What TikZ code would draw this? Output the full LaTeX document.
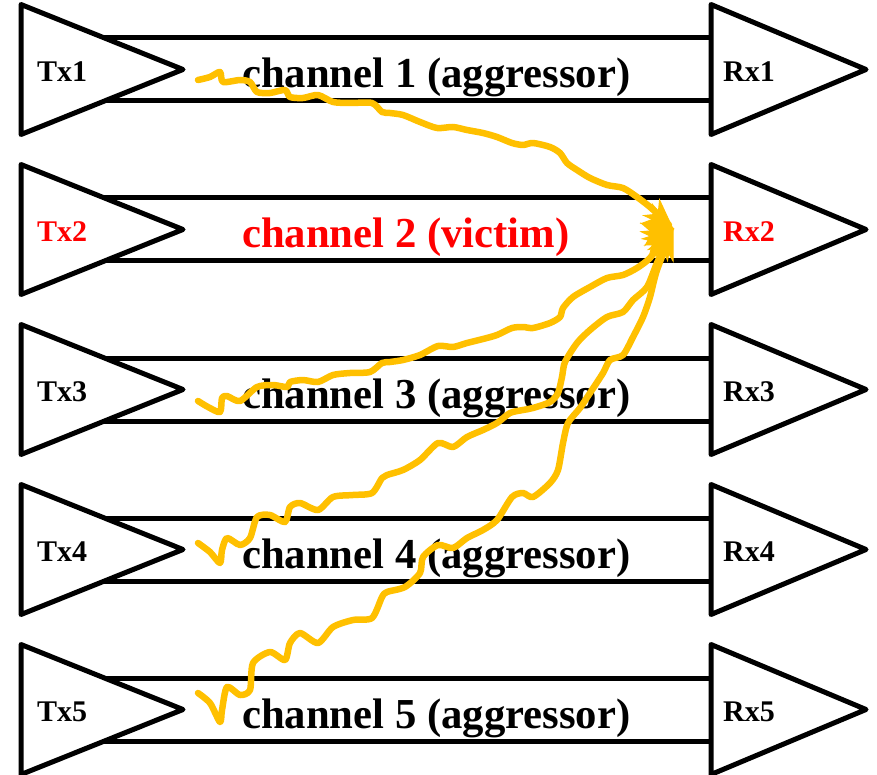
\documentclass[tikz,border=0pt]{standalone}
\usepackage{fontspec}
\setmainfont{Liberation Serif}
\definecolor{wave}{RGB}{255,192,0}
\definecolor{vic}{RGB}{255,0,0}
\begin{document}
\begin{tikzpicture}[x=1pt,y=-1pt,
  wire/.style={line width=5pt},
  amp/.style={line width=5pt,line join=round,fill=white},
  chlabel/.style={anchor=base west,inner sep=0pt,font=\fontsize{42.7}{50}\selectfont\bfseries},
  txlabel/.style={anchor=base west,inner sep=0pt,font=\fontsize{30}{36}\selectfont\bfseries},
  xtalk/.style={draw=wave,line width=6.5pt,line cap=round,line join=round,shorten >=10pt},
  xhead/.style={fill=wave,draw=wave,line width=1pt,line join=miter}]
\useasboundingbox (0,0) rectangle (877,775);
\foreach \i/\c/\t in {1/black/aggressor,2/vic/victim,3/black/aggressor,4/black/aggressor,5/black/aggressor}{
  \pgfmathsetmacro{\yc}{69.5+160*(\i-1)}
  \draw[wire] (60,\yc-31.5) -- (711,\yc-31.5);
  \draw[wire] (60,\yc+31.5) -- (711,\yc+31.5);
  \draw[amp] (21,\yc-65) -- (183,\yc) -- (21,\yc+65) -- cycle;
  \draw[amp] (711,\yc-65) -- (866,\yc) -- (711,\yc+65) -- cycle;
  \node[txlabel,text=\c] (tx\i) at (37,\yc+12) {Tx\i};
  \node[txlabel,text=\c] (rx\i) at (723,\yc+12) {Rx\i};
  \node[chlabel,text=\c] (ch\i) at (242,\yc+18.5) {channel \i\ (\t)};
}
\coordinate (tip) at (673,229);
\draw[xtalk] plot[smooth,tension=0.45] coordinates {(198,80) (210,77) (220,72) (223,82) (240,80) (250,82) (257,92) (270,93) (285,90) (290,97) (303,98) (318,95) (333,102) (350,103) (372,103) (382,112) (390,113) (403,115) (420,122) (437,128) (453,127) (467,130) (483,133) (497,137) (512,143) (523,145) (533,143) (550,147) (560,153) (567,163) (577,170) (590,178) (607,185) (623,188) (637,197) (650,207) (663,219) (tip)};
\draw[xtalk] plot[smooth,tension=0.45] coordinates {(198,401) (208,407) (220,412) (222,398) (227,396) (240,401) (257,387) (273,385) (287,387) (290,382) (303,380) (318,382) (333,375) (350,373) (370,372) (382,363) (390,362) (403,360) (420,355) (438,346) (453,347) (467,343) (483,339) (497,335) (512,328) (523,327) (533,328) (550,323) (560,317) (563,308) (573,297) (590,287) (607,278) (623,275) (637,268) (650,258) (661,242) (tip)};
\draw[xtalk] plot[smooth,tension=0.45] coordinates {(198,543) (210,552) (220,563) (222,550) (227,538) (240,545) (250,538) (257,517) (270,515) (285,522) (290,507) (300,503) (318,510) (333,497) (353,495) (372,493) (382,478) (387,475) (403,470) (420,460) (438,443) (453,447) (467,437) (483,430) (497,423) (510,413) (523,410) (533,408) (550,402) (558,393) (562,377) (565,362) (577,343) (590,330) (607,317) (623,312) (633,300) (647,287) (657,263) (tip)};
\draw[xtalk] plot[smooth,tension=0.45] coordinates {(198,693) (210,703) (220,722) (222,710) (227,687) (240,695) (250,690) (253,663) (270,652) (285,660) (290,643) (300,633) (318,643) (333,627) (353,620) (372,618) (382,597) (387,592) (405,587) (420,573) (423,557) (438,545) (453,548) (467,538) (483,530) (497,520) (512,497) (523,493) (533,497) (550,483) (558,470) (563,443) (568,423) (580,408) (590,393) (603,373) (610,360) (623,355) (633,337) (643,317) (650,297) (657,270) (tip)};
\foreach \a in {-45,-30,10,25,38,50,60,70}{
  \begin{scope}[shift={(tip)},rotate=\a]
    \path[xhead] (0,0) -- (-30,11) -- (-21,0) -- (-30,-11) -- cycle;
  \end{scope}
}
\end{tikzpicture}
\end{document}
